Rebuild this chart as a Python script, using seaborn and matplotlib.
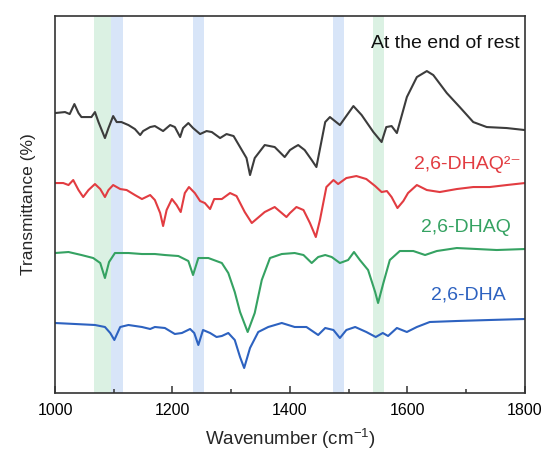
import numpy as np
import pandas as pd
import matplotlib
matplotlib.use("Agg")
import matplotlib.pyplot as plt
from matplotlib.ticker import MultipleLocator
import seaborn as sns

# spectra (arbitrary transmittance units, stacked)
rest_wn = [1000, 1017, 1025, 1033, 1040, 1045, 1062, 1068, 1074, 1085, 1091, 1099, 1105, 1113,
           1125, 1136, 1145, 1150, 1162, 1170, 1184, 1196, 1204, 1213, 1218, 1227, 1235, 1247,
           1258, 1267, 1281, 1292, 1304, 1315, 1326, 1332, 1340, 1357, 1374, 1391, 1400, 1408,
           1414, 1425, 1437, 1445, 1460, 1468, 1485, 1508, 1522, 1542, 1556, 1564, 1573, 1582,
           1599, 1616, 1633, 1644, 1667, 1689, 1712, 1735, 1769, 1800]
rest_t = [280, 281, 279, 289, 280, 276, 276, 281, 271, 255, 265, 277, 271, 271,
          268, 264, 258, 262, 266, 267, 262, 268, 266, 256, 265, 270, 265, 259,
          262, 261, 255, 259, 257, 246, 235, 218, 235, 248, 246, 236, 243, 246,
          248, 243, 233, 226, 271, 276, 268, 287, 278, 261, 251, 266, 267, 260,
          296, 316, 322, 318, 300, 286, 271, 266, 265, 263]

dhaq2_wn = [1000, 1014, 1023, 1031, 1040, 1048, 1057, 1068, 1077, 1085, 1091, 1099, 1111, 1122,
            1136, 1148, 1162, 1170, 1179, 1184, 1190, 1199, 1207, 1214, 1221, 1228, 1238, 1247,
            1255, 1264, 1271, 1284, 1298, 1309, 1323, 1335, 1343, 1357, 1374, 1394, 1400, 1411,
            1423, 1434, 1444, 1451, 1462, 1474, 1482, 1496, 1513, 1530, 1545, 1556, 1565, 1573,
            1583, 1593, 1601, 1616, 1633, 1655, 1684, 1712, 1740, 1769, 1800]
dhaq2_t = [210, 210, 208, 213, 203, 196, 203, 209, 204, 196, 203, 208, 204, 203,
           198, 194, 198, 193, 180, 167, 183, 194, 188, 181, 200, 206, 200, 192,
           190, 184, 194, 194, 200, 197, 181, 170, 174, 181, 186, 176, 180, 186,
           183, 170, 156, 173, 206, 213, 209, 215, 217, 214, 207, 201, 202, 196,
           185, 192, 200, 208, 203, 201, 204, 206, 206, 208, 210]

dhaq_wn = [1000, 1023, 1045, 1065, 1077, 1085, 1092, 1102, 1125, 1148, 1170, 1187, 1210, 1227,
           1235, 1244, 1261, 1284, 1295, 1306, 1315, 1328, 1340, 1352, 1366, 1386, 1408, 1423,
           1437, 1448, 1460, 1471, 1485, 1499, 1509, 1519, 1533, 1545, 1550, 1559, 1570, 1587,
           1610, 1630, 1650, 1684, 1718, 1752, 1800]
dhaq_t = [140, 141, 138, 135, 130, 115, 131, 140, 140, 139, 139, 138, 137, 132,
          118, 135, 135, 130, 120, 101, 81, 61, 80, 113, 135, 139, 140, 138,
          130, 136, 138, 136, 130, 133, 141, 133, 123, 101, 90, 110, 133, 142,
          142, 138, 142, 145, 144, 143, 144]

dha_wn = [1000, 1034, 1068, 1085, 1094, 1101, 1111, 1125, 1148, 1162, 1170, 1187, 1204, 1216,
          1230, 1237, 1244, 1252, 1264, 1275, 1284, 1295, 1306, 1315, 1322, 1332, 1346, 1363,
          1386, 1408, 1428, 1448, 1460, 1474, 1485, 1496, 1511, 1530, 1546, 1558, 1567, 1582,
          1599, 1616, 1638, 1684, 1740, 1800]
dha_t = [70, 69, 68, 66, 60, 53, 66, 68, 66, 64, 66, 65, 59, 60,
         64, 60, 48, 63, 60, 56, 57, 60, 53, 36, 25, 45, 61, 66,
         70, 66, 66, 58, 65, 63, 55, 63, 66, 61, 56, 60, 57, 65,
         61, 66, 71, 72, 73, 74]

# highlighted bands (cm-1)
green_bands = [(1066, 1095), (1542, 1560)]
blue_bands = [(1095, 1115), (1235, 1254), (1474, 1492)]

labels = ["At the end of rest", "2,6-DHAQ²⁻", "2,6-DHAQ", "2,6-DHA"]
colors = ["#3c3c3c", "#e23c41", "#35a262", "#2d62c0"]

sns.set_style("white")
plt.rcParams["font.family"] = ["Liberation Sans", "DejaVu Sans"]
plt.rcParams["mathtext.fontset"] = "custom"
plt.rcParams["mathtext.rm"] = "Liberation Sans"

fig = plt.figure(figsize=(5.42, 4.53), dpi=100)
ax = fig.add_axes([0.1015, 0.1325, 0.867, 0.832])

for lo, hi in green_bands:
    ax.axvspan(lo, hi, color="#dbf1e3", lw=0, zorder=0)
for lo, hi in blue_bands:
    ax.axvspan(lo, hi, color="#d8e5f8", lw=0, zorder=0)

series = [(rest_wn, rest_t), (dhaq2_wn, dhaq2_t), (dhaq_wn, dhaq_t), (dha_wn, dha_t)]
for (wn, t), c in zip(series, colors):
    df = pd.DataFrame({"wn": wn, "t": t})
    sns.lineplot(data=df, x="wn", y="t", color=c, lw=1.5, ax=ax, sort=False, estimator=None)

# curve labels
ax.text(1791, 350, labels[0], color="#111111", fontsize=14, ha="right", va="center")
ax.text(1793, 229, labels[1], color=colors[1], fontsize=14, ha="right", va="center")
ax.text(1776, 166, labels[2], color=colors[2], fontsize=14, ha="right", va="center")
ax.text(1767, 98, labels[3], color=colors[3], fontsize=14, ha="right", va="center")

ax.set_xlim(1000, 1800)
ax.set_ylim(0, 377)
ax.xaxis.set_major_locator(MultipleLocator(200))
ax.xaxis.set_minor_locator(MultipleLocator(100))
ax.set_yticks([])
ax.tick_params(axis="x", which="major", direction="in", length=5, width=1.1,
               labelsize=11.5, pad=7, colors="#333333", labelcolor="black", bottom=True)
ax.tick_params(axis="x", which="minor", direction="in", length=3, width=1.1,
               colors="#333333", bottom=True)
for s in ax.spines.values():
    s.set_color("#333333")
    s.set_linewidth(1.2)

ax.set_xlabel("Wavenumber (cm$^{-1}$)", fontsize=13.5, labelpad=6)
ax.set_ylabel("Transmittance (%)", fontsize=12.5, labelpad=14)

fig.savefig("out.png", dpi=100)
